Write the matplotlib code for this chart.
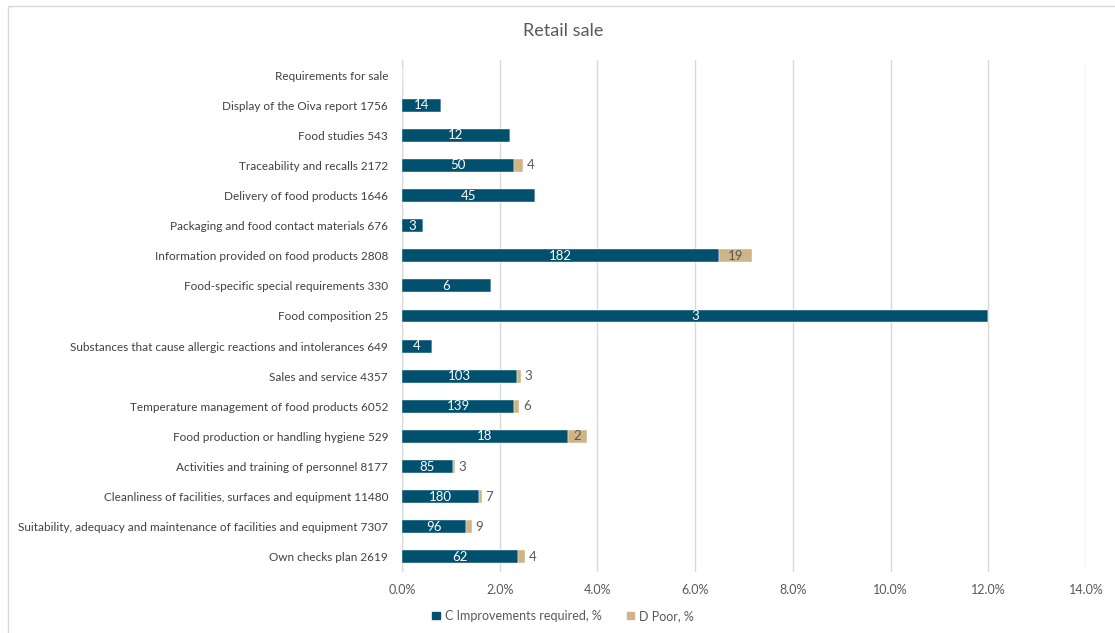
import matplotlib.pyplot as plt
from matplotlib.patches import Rectangle
from matplotlib.ticker import FuncFormatter

plt.rcParams['font.family'] = ['Lato', 'DejaVu Sans']

# categories, top to bottom
categories = ['Requirements for sale',
              'Display of the Oiva report 1756',
              'Food studies 543',
              'Traceability and recalls 2172',
              'Delivery of food products 1646',
              'Packaging and food contact materials 676',
              'Information provided on food products 2808',
              'Food-specific special requirements 330',
              'Food composition 25',
              'Substances that cause allergic reactions and intolerances 649',
              'Sales and service 4357',
              'Temperature management of food products 6052',
              'Food production or handling hygiene 529',
              'Activities and training of personnel 8177',
              'Cleanliness of facilities, surfaces and equipment 11480',
              'Suitability, adequacy and maintenance of facilities and equipment 7307',
              'Own checks plan 2619']

# share of inspections, %
c_pct = [0, 0.80, 2.21, 2.30, 2.73, 0.44, 6.48, 1.82, 12.0, 0.62,
         2.36, 2.30, 3.40, 1.04, 1.57, 1.31, 2.37]
d_pct = [0, 0, 0, 0.18, 0, 0, 0.68, 0, 0, 0,
         0.07, 0.10, 0.38, 0.04, 0.06, 0.12, 0.15]
# counts shown as labels
c_count = [None, 14, 12, 50, 45, 3, 182, 6, 3, 4, 103, 139, 18, 85, 180, 96, 62]
d_count = [None, None, None, 4, None, None, 19, None, None, None, 3, 6, 2, 3, 7, 9, 4]

c_color = '#00506E'
d_color = '#CDB587'

fig = plt.figure(figsize=(11.15, 6.33), dpi=100)
ax = fig.add_axes([0.3605, 0.0964, 0.6135, 0.8088])

y = list(range(len(categories)))
ax.barh(y, c_pct, height=0.43, color=c_color, edgecolor='white', linewidth=0.3, zorder=3)
ax.barh(y, d_pct, left=c_pct, height=0.43, color=d_color, edgecolor='white', linewidth=0.3, zorder=3)

for i in y:
    if c_count[i] is not None:
        ax.text(c_pct[i] / 2, i, str(c_count[i]), ha='center', va='center',
                color='white', fontsize=9.5, zorder=4)
    if d_count[i] is not None:
        if d_pct[i] > 0.3:
            ax.text(c_pct[i] + d_pct[i] / 2, i, str(d_count[i]), ha='center', va='center',
                    color='#595959', fontsize=9.5, zorder=4)
        else:
            ax.text(c_pct[i] + d_pct[i] + 0.08, i, str(d_count[i]), ha='left', va='center',
                    color='#595959', fontsize=9.5, zorder=4)

ax.set_xlim(0, 14)
ax.set_xticks(range(0, 15, 2))
ax.xaxis.set_major_formatter(FuncFormatter(lambda v, p: f'{v:.1f}%'))
ax.set_ylim(len(categories) - 0.5, -0.5)
ax.set_yticks(y)
ax.set_yticklabels(categories)
ax.tick_params(axis='x', length=0, labelsize=9, labelcolor='#595959', pad=9)
ax.tick_params(axis='y', length=0, labelsize=8.5, labelcolor='#404040', pad=10)
ax.grid(axis='x', color='#D9D9D9', linewidth=1, zorder=0)
for s in ax.spines.values():
    s.set_visible(False)
ax.axvline(0, color='#D9D9D9', linewidth=1, zorder=1)

fig.text(0.505, 0.951, 'Retail sale', ha='center', va='center', fontsize=13, color='#595959')

handles = [Rectangle((0, 0), 1, 1, color=c_color), Rectangle((0, 0), 1, 1, color=d_color)]
fig.legend(handles, ['C Improvements required, %', 'D Poor, %'], loc='center',
           bbox_to_anchor=(0.505, 0.027), ncol=2, frameon=False, fontsize=9,
           handlelength=0.6, handleheight=0.6, columnspacing=2.0, handletextpad=0.4,
           labelcolor='#595959')

fig.patches.append(Rectangle((0.007, -0.05), 1.1, 1.04, transform=fig.transFigure,
                             fill=False, edgecolor='#D9D9D9', linewidth=1))

fig.savefig('out.png', dpi=100)
